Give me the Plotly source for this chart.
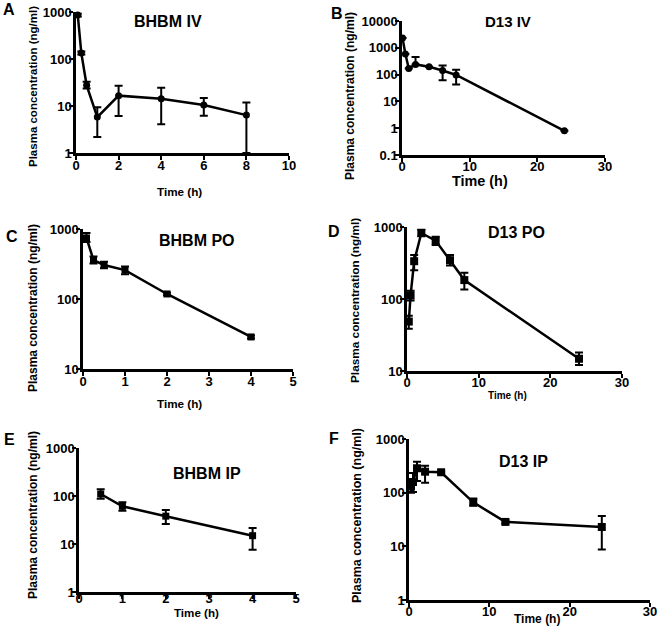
import plotly.graph_objects as go

W, H = 660, 628

# ---------------- data ----------------
a_time = [0.083, 0.25, 0.5, 1, 2, 4, 6, 8]
a_conc = [860, 134, 27.5, 5.8, 16.6, 14.3, 10.5, 6.4]
a_up = [60, 10, 5.5, 3.6, 10.5, 10.2, 4.3, 5.4]
a_down = [60, 10, 4, 3.6, 10.5, 10.2, 4.3, 5.4]

b_time = [0.083, 0.5, 1, 2, 4, 6, 8, 24]
b_conc = [2300, 590, 170, 240, 195, 143, 97, 0.8]
b_up = [0, 0, 0, 215, 0, 77, 55, 0]
b_down = [0, 0, 0, 0, 0, 82, 54, 0]

c_time = [0.083, 0.25, 0.5, 1, 2, 4]
c_conc = [745, 360, 306, 259, 118, 28.7]
c_up = [130, 45, 35, 32, 5, 1.5]
c_down = [95, 38, 30, 33, 5, 1.5]

d_time = [0.25, 0.5, 1, 2, 4, 6, 8, 24]
d_conc = [48.6, 112, 335, 826, 647, 346, 183, 14.8]
d_up = [10, 18, 75, 92, 88, 64, 48, 3.3]
d_down = [10, 17, 84, 83, 83, 54, 47, 2.7]

e_time = [0.5, 1, 2, 4]
e_conc = [110, 61, 38, 14.9]
e_up = [28, 13, 13, 6.6]
e_down = [22, 12, 12, 7.3]

f_time = [0.25, 0.5, 1, 2, 4, 8, 12, 24]
f_conc = [130, 158, 285, 246, 240, 66, 28.5, 22.9]
f_up = [20, 75, 93, 72, 10, 12, 2, 13.8]
f_down = [30, 55, 120, 93, 10, 9, 2, 14.2]

panel_letters = ["A", "B", "C", "D", "E", "F"]
panel_titles = ["BHBM IV", "D13 IV", "BHBM PO", "D13 PO", "BHBM IP", "D13 IP"]
y_label = "Plasma concentration (ng/ml)"
x_label = "Time (h)"

# ---------------- layout geometry (page pixels) ----------------
panels = [
    dict(t=a_time, c=a_conc, up=a_up, dn=a_down, sym="circle", ms=7,
         box=(76, 289, 12, 153), xr=[0, 10], xt=[0, 2, 4, 6, 8, 10], yr=[0, 3], yt=[1, 10, 100, 1000],
         letter=(9, 9), title=(168, 21, 16), ylab=(33, 87, 11.5), xlab=(179, 191, 11.7), xso=-5),
    dict(t=b_time, c=b_conc, up=b_up, dn=b_down, sym="circle", ms=7,
         box=(402, 605, 21, 155), xr=[0, 30], xt=[0, 10, 20, 30], yr=[-1, 4], yt=[0.1, 1, 10, 100, 1000, 10000],
         letter=(337, 13), title=(508, 22, 15), ylab=(350, 96, 12), xlab=(480, 181, 14.4), xso=-6),
    dict(t=c_time, c=c_conc, up=c_up, dn=c_down, sym="square", ms=7,
         box=(83, 293, 229, 369), xr=[0, 5], xt=[0, 1, 2, 3, 4, 5], yr=[1, 3], yt=[10, 100, 1000],
         letter=(12, 237), title=(197, 240, 16), ylab=(33, 308, 12), xlab=(179, 403, 11.7), xso=-5),
    dict(t=d_time, c=d_conc, up=d_up, dn=d_down, sym="square", ms=8,
         box=(407, 622, 227, 371), xr=[0, 30], xt=[0, 10, 20, 30], yr=[1, 3], yt=[10, 100, 1000],
         letter=(334, 232), title=(516, 233, 16), ylab=(355, 301, 11.8), xlab=(507, 395, 10), xso=-6),
    dict(t=e_time, c=e_conc, up=e_up, dn=e_down, sym="square", ms=7,
         box=(79, 296, 448, 592), xr=[0, 5], xt=[0, 1, 2, 3, 4, 5], yr=[0, 3], yt=[1, 10, 100, 1000],
         letter=(9, 439), title=(207, 473, 16), ylab=(33, 515, 12), xlab=(196, 612, 11.6), xso=-11),
    dict(t=f_time, c=f_conc, up=f_up, dn=f_down, sym="square", ms=8,
         box=(409, 650, 439, 600), xr=[0, 30], xt=[0, 10, 20, 30], yr=[0, 3], yt=[1, 10, 100, 1000],
         letter=(334, 438), title=(523, 461, 16), ylab=(357, 516, 12.5), xlab=(537, 619, 12), xso=-6),
]

FONT = "Liberation Sans"


def fx(px):
    return px / W


def fy(py):
    return 1 - py / H


def fmt(v):
    return "<b>%g</b>" % v


fig = go.Figure()
annotations = []

for i, p in enumerate(panels):
    n = "" if i == 0 else str(i + 1)
    xa, ya = "x" + n, "y" + n
    fig.add_trace(go.Scatter(
        x=p["t"], y=p["c"], xaxis=xa, yaxis=ya, mode="lines+markers",
        line=dict(color="black", width=2.5),
        marker=dict(symbol=p["sym"], size=p["ms"], color="black"),
        error_y=dict(type="data", symmetric=False, array=p["up"], arrayminus=p["dn"],
                     color="black", thickness=2, width=4),
        cliponaxis=False, showlegend=False,
    ))
    x0, x1, y0, y1 = p["box"]
    axis_common = dict(showline=True, linecolor="black", linewidth=2.5, ticks="outside",
                       tickwidth=2, tickcolor="black", showgrid=False, zeroline=False,
                       automargin=False, ticklen=4,
                       tickfont=dict(family=FONT, size=13, color="black"))
    fig.update_layout(**{
        "xaxis" + n: dict(domain=[fx(x0), fx(x1)], range=p["xr"], tickvals=p["xt"],
                          ticklabelstandoff=p["xso"],
                          ticktext=[fmt(v) for v in p["xt"]], anchor=ya, **axis_common),
        "yaxis" + n: dict(domain=[fy(y1), fy(y0)], type="log", range=p["yr"], tickvals=p["yt"],
                          ticklabelstandoff=-5,
                          ticktext=[fmt(v) for v in p["yt"]], anchor=xa, **axis_common),
    })
    lx, ly = p["letter"]
    annotations.append(dict(x=fx(lx), y=fy(ly), xref="paper", yref="paper", text="<b>%s</b>" % panel_letters[i],
                            showarrow=False, xanchor="center", yanchor="middle",
                            font=dict(family=FONT, size=16, color="black")))
    tx, ty, ts = p["title"]
    annotations.append(dict(x=fx(tx), y=fy(ty), xref="paper", yref="paper", text="<b>%s</b>" % panel_titles[i],
                            showarrow=False, xanchor="center", yanchor="middle",
                            font=dict(family=FONT, size=ts, color="black")))
    yx, yy, ys = p["ylab"]
    annotations.append(dict(x=fx(yx), y=fy(yy), xref="paper", yref="paper", text="<b>%s</b>" % y_label,
                            showarrow=False, xanchor="center", yanchor="middle", textangle=-90,
                            font=dict(family=FONT, size=ys, color="black")))
    ax_, ay_, as_ = p["xlab"]
    annotations.append(dict(x=fx(ax_), y=fy(ay_), xref="paper", yref="paper", text="<b>%s</b>" % x_label,
                            showarrow=False, xanchor="center", yanchor="middle",
                            font=dict(family=FONT, size=as_, color="black")))

fig.update_layout(width=W, height=H, margin=dict(l=0, r=0, t=0, b=0, pad=0),
                  paper_bgcolor="white", plot_bgcolor="white", template="none",
                  hovermode=False, annotations=annotations)

# remove the browser's default 8px body margin so the figure fills the window
fig.write_html("out.html", config={"displayModeBar": False},
               post_script="document.body.style.margin='0';")
